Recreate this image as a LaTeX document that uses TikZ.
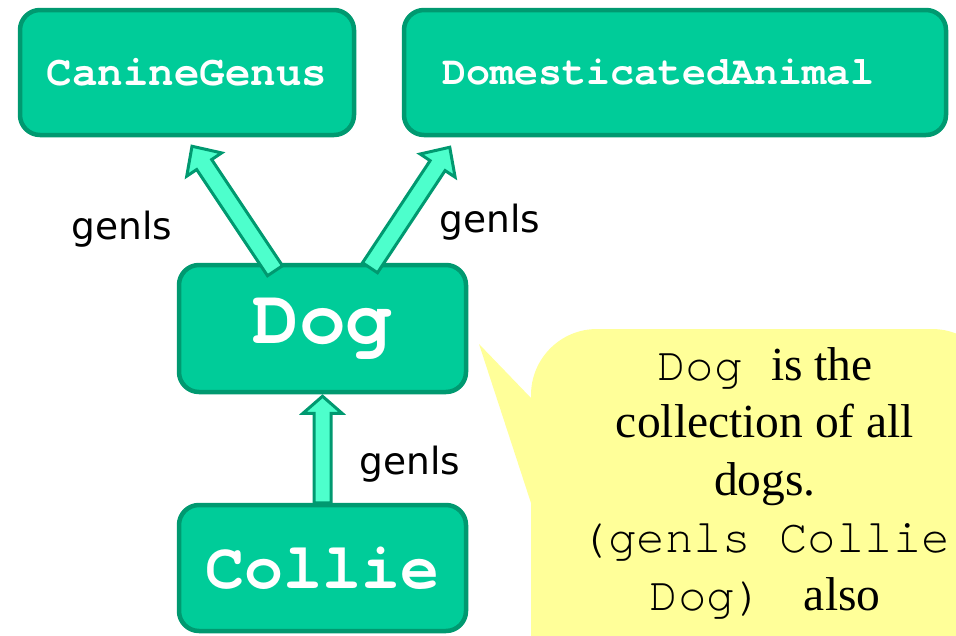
\documentclass[tikz,border=0pt]{standalone}
\usepackage{fontspec}
\setmainfont{Liberation Serif}
\newfontfamily\monofont{TeX Gyre Cursor}
\newfontfamily\labelfont{DejaVu Sans}
\usetikzlibrary{calc}
\definecolor{boxfill}{RGB}{0,204,153}
\definecolor{boxline}{RGB}{0,153,112}
\definecolor{arrowfill}{RGB}{77,255,204}
\definecolor{bubblefill}{RGB}{255,255,153}
\tikzset{
  concept/.style={draw=boxline, line width=4.5pt, fill=boxfill, rounded corners=20pt,
    text=white, inner sep=0pt},
  fatarrowstyle/.style={draw=boxline, line width=3pt, fill=arrowfill, line join=miter},
  relname/.style={font=\labelfont\fontsize{37.5}{37.5}\selectfont, inner sep=0pt},
  bubbletext/.style={font=\fontsize{47.5}{57.5}\selectfont, align=center, inner sep=0pt},
}
% #1 from, #2 to, #3 shaft half width, #4 head half width, #5 head length
\newcommand{\fatarrowb}[5]{%
  \coordinate (fab) at ($(#2)!#5!(#1)$);
  \path[fatarrowstyle]
    ($(#1)!#3!-90:(#2)$) -- ($(fab)!#3!90:(#1)$) -- ($(fab)!#4!90:(#1)$) -- (#2)
    -- ($(fab)!#4!-90:(#1)$) -- ($(fab)!#3!-90:(#1)$) -- ($(#1)!#3!90:(#2)$) -- cycle;
}
\begin{document}
\begin{tikzpicture}[x=1pt,y=1pt]
  \clip (0,0) rectangle (956,-635);
  \fill[white] (0,0) rectangle (956,-635);

  % speech bubble
  \fill[bubblefill, rounded corners=66pt] (531,-329) rectangle (998,-700);
  \fill[bubblefill] (479,-344) -- (531,-398) -- (545,-398) -- (545,-503) -- (531,-503) -- cycle;
  \node[bubbletext] (note) at (765,-483)
    {{\monofont Dog }is the\\collection of all\\dogs.\\{\monofont (genls Collie}\\{\monofont Dog) } also};

  % concept boxes
  \node[concept, minimum width=334pt, minimum height=125pt,
        font=\monofont\bfseries\fontsize{42.5}{42.5}\selectfont] (canine) at (187,-72.5) {CanineGenus};
  \node[concept, minimum width=542pt, minimum height=125pt,
        font=\monofont\bfseries\fontsize{40}{40}\selectfont] (domestic) at (675,-72.5) {DomesticatedAnimal\hspace*{34pt}};
  \node[concept, minimum width=287pt, minimum height=127pt,
        font=\monofont\bfseries\fontsize{78}{78}\selectfont] (dog) at (322.5,-328.5) {Dog};
  \node[concept, minimum width=287pt, minimum height=126pt,
        font=\monofont\bfseries\fontsize{65}{65}\selectfont] (collie) at (322.5,-568) {Collie};

  % arrow end points
  \coordinate (a1s) at ($(dog.north)+(-47.5,-8)$);
  \coordinate (a1e) at ($(canine.south)+(5,-9)$);
  \coordinate (a2s) at ($(dog.north)+(47.5,-5)$);
  \coordinate (a2e) at ($(domestic.south west)+(48,-10)$);
  \coordinate (a3s) at (collie.north);
  \coordinate (a3e) at ($(dog.south)+(0,-2)$);

  \fatarrowb{a1s}{a1e}{9pt}{21pt}{22pt}
  \fatarrowb{a2s}{a2e}{9pt}{21pt}{22pt}
  \fatarrowb{a3s}{a3e}{8.5pt}{19.5pt}{17pt}

  % relation labels
  \node[relname] (g1) at (122,-229) {genls};
  \node[relname] (g2) at (490,-222) {genls};
  \node[relname] (g3) at (410,-464) {genls};
\end{tikzpicture}
\end{document}
